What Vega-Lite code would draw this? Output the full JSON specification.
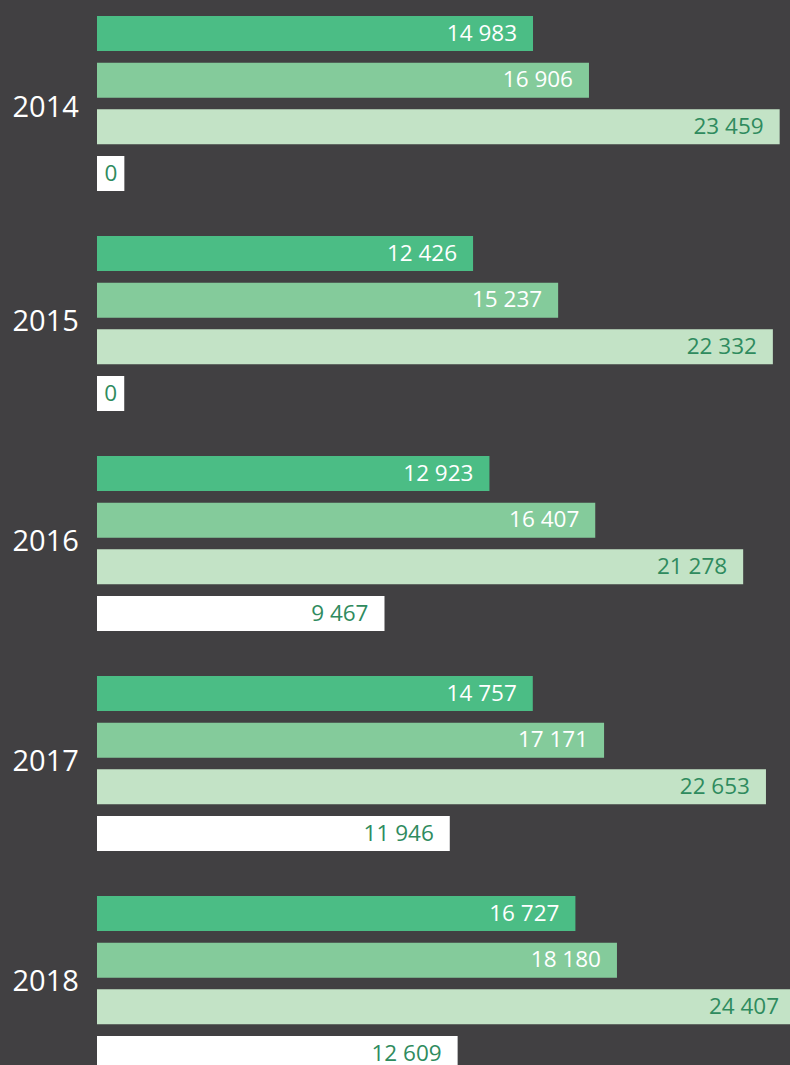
{
  "$schema": "https://vega.github.io/schema/vega-lite/v6.json",
  "background": "#414042",
  "padding": {"left": 12, "top": 16, "right": 0, "bottom": 0},
  "autosize": {"type": "pad"},
  "spacing": 45,
  "config": {
    "view": {"stroke": null},
    "locale": {"number": {"decimal": ",", "thousands": " ", "grouping": [3], "currency": ["", ""]}},
    "title": {"orient": "left", "angle": 0, "align": "right", "baseline": "middle", "anchor": "middle", "offset": -15, "dy": -16, "font": "Open Sans", "fontSize": 29, "fontWeight": "normal", "color": "#ffffff"},
    "text": {"font": "Open Sans", "fontSize": 22.5, "align": "right", "baseline": "middle"}
  },
  "data": {
    "values": [
      {"year": 2014, "series": "s1", "value": 14983},
      {"year": 2014, "series": "s2", "value": 16906},
      {"year": 2014, "series": "s3", "value": 23459},
      {"year": 2014, "series": "s4", "value": 0},
      {"year": 2015, "series": "s1", "value": 12426},
      {"year": 2015, "series": "s2", "value": 15237},
      {"year": 2015, "series": "s3", "value": 22332},
      {"year": 2015, "series": "s4", "value": 0},
      {"year": 2016, "series": "s1", "value": 12923},
      {"year": 2016, "series": "s2", "value": 16407},
      {"year": 2016, "series": "s3", "value": 21278},
      {"year": 2016, "series": "s4", "value": 9467},
      {"year": 2017, "series": "s1", "value": 14757},
      {"year": 2017, "series": "s2", "value": 17171},
      {"year": 2017, "series": "s3", "value": 22653},
      {"year": 2017, "series": "s4", "value": 11946},
      {"year": 2018, "series": "s1", "value": 16727},
      {"year": 2018, "series": "s2", "value": 18180},
      {"year": 2018, "series": "s3", "value": 24407},
      {"year": 2018, "series": "s4", "value": 12609}
    ]
  },
  "vconcat": [
    {
      "title": {"text": "2014", "dy": -10},
      "transform": [{"filter": "datum.year == 2014"}],
      "width": 693, "height": 175,
      "encoding": {
        "y": {"field": "series", "type": "nominal", "axis": null, "scale": {"domain": ["s1", "s2", "s3", "s4"], "paddingInner": 0.25, "paddingOuter": 0}}
      },
      "layer": [
        {"mark": {"type": "bar", "clip": true},
         "encoding": {"x": {"field": "value", "type": "quantitative", "axis": null, "scale": {"domain": [0, 23814], "nice": false}},
                      "color": {"field": "series", "type": "nominal", "legend": null, "scale": {"domain": ["s1", "s2", "s3", "s4"], "range": ["#4bbd85", "#84cb9b", "#c3e3c6", "#ffffff"]}}}},
        {"transform": [{"filter": "datum.value == 0"}], "mark": {"type": "bar", "color": "#ffffff"},
         "encoding": {"x": {"datum": 0, "type": "quantitative"}, "x2": {"datum": 940}}},
        {"transform": [{"filter": "datum.value > 0"}], "mark": {"type": "text", "dx": -16},
         "encoding": {"x": {"field": "value", "type": "quantitative"}, "text": {"field": "value", "type": "quantitative", "format": ","},
                      "color": {"condition": {"test": "datum.series == 's1' || datum.series == 's2'", "value": "#ffffff"}, "value": "#2f8b5e"}}},
        {"transform": [{"filter": "datum.value == 0"}], "mark": {"type": "text", "dx": -7, "color": "#2f8b5e"},
         "encoding": {"x": {"datum": 940, "type": "quantitative"}, "text": {"field": "value", "type": "quantitative", "format": ","}}}
      ]
    },
    {
      "title": {"text": "2015"},
      "transform": [{"filter": "datum.year == 2015"}],
      "width": 693, "height": 175,
      "encoding": {
        "y": {"field": "series", "type": "nominal", "axis": null, "scale": {"domain": ["s1", "s2", "s3", "s4"], "paddingInner": 0.25, "paddingOuter": 0}}
      },
      "layer": [
        {"mark": {"type": "bar", "clip": true},
         "encoding": {"x": {"field": "value", "type": "quantitative", "axis": null, "scale": {"domain": [0, 22898], "nice": false}},
                      "color": {"field": "series", "type": "nominal", "legend": null, "scale": {"domain": ["s1", "s2", "s3", "s4"], "range": ["#4bbd85", "#84cb9b", "#c3e3c6", "#ffffff"]}}}},
        {"transform": [{"filter": "datum.value == 0"}], "mark": {"type": "bar", "color": "#ffffff"},
         "encoding": {"x": {"datum": 0, "type": "quantitative"}, "x2": {"datum": 900}}},
        {"transform": [{"filter": "datum.value > 0"}], "mark": {"type": "text", "dx": -16},
         "encoding": {"x": {"field": "value", "type": "quantitative"}, "text": {"field": "value", "type": "quantitative", "format": ","},
                      "color": {"condition": {"test": "datum.series == 's1' || datum.series == 's2'", "value": "#ffffff"}, "value": "#2f8b5e"}}},
        {"transform": [{"filter": "datum.value == 0"}], "mark": {"type": "text", "dx": -7, "color": "#2f8b5e"},
         "encoding": {"x": {"datum": 900, "type": "quantitative"}, "text": {"field": "value", "type": "quantitative", "format": ","}}}
      ]
    },
    {
      "title": {"text": "2016"},
      "transform": [{"filter": "datum.year == 2016"}],
      "width": 693, "height": 175,
      "encoding": {
        "y": {"field": "series", "type": "nominal", "axis": null, "scale": {"domain": ["s1", "s2", "s3", "s4"], "paddingInner": 0.25, "paddingOuter": 0}}
      },
      "layer": [
        {"mark": {"type": "bar", "clip": true},
         "encoding": {"x": {"field": "value", "type": "quantitative", "axis": null, "scale": {"domain": [0, 22820], "nice": false}},
                      "color": {"field": "series", "type": "nominal", "legend": null, "scale": {"domain": ["s1", "s2", "s3", "s4"], "range": ["#4bbd85", "#84cb9b", "#c3e3c6", "#ffffff"]}}}},
        {"transform": [{"filter": "datum.value > 0"}], "mark": {"type": "text", "dx": -16},
         "encoding": {"x": {"field": "value", "type": "quantitative"}, "text": {"field": "value", "type": "quantitative", "format": ","},
                      "color": {"condition": {"test": "datum.series == 's1' || datum.series == 's2'", "value": "#ffffff"}, "value": "#2f8b5e"}}}
      ]
    },
    {
      "title": {"text": "2017"},
      "transform": [{"filter": "datum.year == 2017"}],
      "width": 693, "height": 175,
      "encoding": {
        "y": {"field": "series", "type": "nominal", "axis": null, "scale": {"domain": ["s1", "s2", "s3", "s4"], "paddingInner": 0.25, "paddingOuter": 0}}
      },
      "layer": [
        {"mark": {"type": "bar", "clip": true},
         "encoding": {"x": {"field": "value", "type": "quantitative", "axis": null, "scale": {"domain": [0, 23467], "nice": false}},
                      "color": {"field": "series", "type": "nominal", "legend": null, "scale": {"domain": ["s1", "s2", "s3", "s4"], "range": ["#4bbd85", "#84cb9b", "#c3e3c6", "#ffffff"]}}}},
        {"transform": [{"filter": "datum.value > 0"}], "mark": {"type": "text", "dx": -16},
         "encoding": {"x": {"field": "value", "type": "quantitative"}, "text": {"field": "value", "type": "quantitative", "format": ","},
                      "color": {"condition": {"test": "datum.series == 's1' || datum.series == 's2'", "value": "#ffffff"}, "value": "#2f8b5e"}}}
      ]
    },
    {
      "title": {"text": "2018"},
      "transform": [{"filter": "datum.year == 2018"}],
      "width": 693, "height": 175,
      "encoding": {
        "y": {"field": "series", "type": "nominal", "axis": null, "scale": {"domain": ["s1", "s2", "s3", "s4"], "paddingInner": 0.25, "paddingOuter": 0}}
      },
      "layer": [
        {"mark": {"type": "bar", "clip": true},
         "encoding": {"x": {"field": "value", "type": "quantitative", "axis": null, "scale": {"domain": [0, 24230], "nice": false}},
                      "color": {"field": "series", "type": "nominal", "legend": null, "scale": {"domain": ["s1", "s2", "s3", "s4"], "range": ["#4bbd85", "#84cb9b", "#c3e3c6", "#ffffff"]}}}},
        {"transform": [{"filter": "datum.value > 0"}], "mark": {"type": "text", "dx": -16},
         "encoding": {"x": {"field": "value", "type": "quantitative"}, "text": {"field": "value", "type": "quantitative", "format": ","},
                      "color": {"condition": {"test": "datum.series == 's1' || datum.series == 's2'", "value": "#ffffff"}, "value": "#2f8b5e"}}}
      ]
    }
  ]
}
